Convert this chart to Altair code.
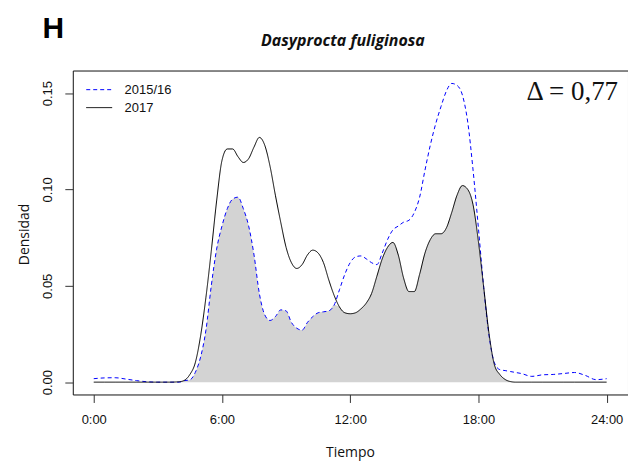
import altair as alt
import numpy as np
import pandas as pd

# ---- data ----
hours = [0, 0.5, 1, 1.5, 2, 2.5, 3, 3.5, 4, 4.25, 4.5, 4.75, 5, 5.25, 5.5, 5.75,
         6, 6.25, 6.5, 6.75, 7, 7.25, 7.5, 7.75, 8, 8.25, 8.5, 8.75, 9, 9.25, 9.5, 9.75,
         10, 10.25, 10.5, 10.75, 11, 11.25, 11.5, 11.75, 12, 12.25, 12.5, 12.75,
         13, 13.25, 13.5, 13.75, 14, 14.25, 14.5, 14.75, 15, 15.25, 15.5, 15.75,
         16, 16.25, 16.5, 16.75, 17, 17.25, 17.5, 17.75, 18, 18.25, 18.5, 18.75,
         19, 19.25, 19.5, 19.75, 20, 20.5, 21, 21.5, 22, 22.5, 23, 23.5, 24]

dens_2015 = [0.0018, 0.0022, 0.0023, 0.0016, 0.0008, 0.0002, 0.0, 0.0, 0.0, 0.0008, 0.0012, 0.005,
             0.013, 0.027, 0.050, 0.069, 0.081, 0.090, 0.095, 0.096, 0.090, 0.081, 0.066, 0.046,
             0.035, 0.032, 0.034, 0.0375, 0.037, 0.031, 0.028, 0.027, 0.031, 0.034, 0.036, 0.0365,
             0.037, 0.040, 0.048, 0.056, 0.062, 0.065, 0.0655, 0.064, 0.062, 0.061, 0.067, 0.074,
             0.079, 0.081, 0.083, 0.084, 0.088, 0.096, 0.110, 0.123, 0.134, 0.143, 0.151, 0.155,
             0.154, 0.149, 0.135, 0.110, 0.080, 0.049, 0.024, 0.010, 0.0065, 0.006, 0.0055, 0.005,
             0.0045, 0.003, 0.0038, 0.004, 0.0045, 0.005, 0.0035, 0.0013, 0.0018]

dens_2017 = [0.0, 0.0, 0.0, 0.0, 0.0, 0.0, 0.0, 0.0, 0.0002, 0.001, 0.004, 0.010,
             0.024, 0.044, 0.068, 0.094, 0.115, 0.121, 0.121, 0.117, 0.114, 0.116, 0.122, 0.127,
             0.123, 0.112, 0.097, 0.083, 0.070, 0.062, 0.059, 0.061, 0.066, 0.0685, 0.067, 0.062,
             0.053, 0.045, 0.039, 0.036, 0.0355, 0.036, 0.038, 0.041, 0.046, 0.055, 0.064, 0.070,
             0.0725, 0.066, 0.054, 0.047, 0.047, 0.056, 0.067, 0.074, 0.077, 0.077, 0.080, 0.088,
             0.097, 0.102, 0.100, 0.092, 0.073, 0.049, 0.025, 0.009, 0.004, 0.0014, 0.0003, 0.0,
             0.0, 0.0, 0.0, 0.0, 0.0, 0.0, 0.0, 0.0, 0.0]

periods = ["2015/16", "2017"]
period_colors = ["#0000ff", "#000000"]
period_dashes = [[4, 3], [1, 0]]
x_tick_hours = [0, 6, 12, 18, 24]
y_tick_values = [0.0, 0.05, 0.10, 0.15]
panel_letter = ["H"]
species_title = ["Dasyprocta fuliginosa"]
overlap_label = ["\u0394 = 0,77"]
x_title = "Tiempo"
y_title = "Densidad"

# ---- tables ----
lines_df = pd.DataFrame({
    "hour": hours * 2,
    "density": dens_2015 + dens_2017,
    "period": [periods[0]] * len(hours) + [periods[1]] * len(hours),
})
overlap_df = pd.DataFrame({
    "hour": hours,
    "overlap": np.minimum(np.array(dens_2015), np.array(dens_2017)),
})

x_scale = alt.Scale(domain=[-0.98, 25.0], nice=False, zero=False)
y_scale = alt.Scale(domain=[-0.0064, 0.1617], nice=False, zero=False)

x_axis = alt.Axis(values=x_tick_hours, labelExpr="datum.value + ':00'", title=x_title,
                  grid=False, domain=False, tickSize=8, tickColor="#333",
                  labelFont="Liberation Sans", labelFontSize=13, labelColor="#111",
                  labelBaseline="middle", labelPadding=17, labelFlush=False,
                  titleFont="Open Sans", titleFontSize=14, titleFontWeight="normal",
                  titleColor="#111", titleBaseline="alphabetic", titleY=62, titleX=278)
y_axis = alt.Axis(values=y_tick_values, format=".2f", title=y_title,
                  grid=False, domain=False, tickSize=8, tickColor="#333",
                  labelFont="Liberation Sans", labelFontSize=13, labelColor="#111",
                  labelAngle=-90, labelAlign="center", labelBaseline="middle",
                  labelPadding=17, labelFlush=False,
                  titleFont="Open Sans", titleFontSize=14, titleFontWeight="normal",
                  titleColor="#111", titleBaseline="alphabetic", titleX=-44, titleY=164)

area = alt.Chart(overlap_df).mark_area(color="#d3d3d3", interpolate="monotone").encode(
    x=alt.X("hour:Q", scale=x_scale, axis=x_axis),
    y=alt.Y("overlap:Q", scale=y_scale, axis=y_axis),
)

legend = alt.Legend(orient="none", legendX=19.5, legendY=12.2, title=None,
                    symbolType="M-2,0H2", symbolSize=169, symbolStrokeWidth=1,
                    symbolFillColor="transparent",
                    labelFont="Liberation Sans", labelFontSize=13, labelColor="#111",
                    labelOffset=18.5, rowPadding=4, padding=0)

lines = alt.Chart(lines_df).mark_line(strokeWidth=1, interpolate="monotone").encode(
    x=alt.X("hour:Q", scale=x_scale),
    y=alt.Y("density:Q", scale=y_scale),
    color=alt.Color("period:N", scale=alt.Scale(domain=periods, range=period_colors), legend=legend),
    strokeDash=alt.StrokeDash("period:N", scale=alt.Scale(domain=periods, range=period_dashes), legend=legend),
)

delta = alt.Chart(pd.DataFrame({"t": overlap_label})).mark_text(
    font="Liberation Serif", fontSize=27, align="right", baseline="alphabetic", color="#111"
).encode(x=alt.value(547), y=alt.value(30), text="t:N")

letter = alt.Chart(pd.DataFrame({"t": panel_letter})).mark_text(
    font="Liberation Sans", fontSize=30, fontWeight="bold", align="center",
    baseline="alphabetic", color="#000"
).encode(x=alt.value(-19.5), y=alt.value(-33), text="t:N")

title = alt.Chart(pd.DataFrame({"t": species_title})).mark_text(
    font="Open Sans", fontSize=16, fontStyle="italic", fontWeight="bold", align="center",
    baseline="alphabetic", color="#111"
).encode(x=alt.value(271), y=alt.value(-25), text="t:N")

chart = alt.layer(area, lines, delta, letter, title).properties(
    width=557,
    height=325,
    autosize=alt.AutoSizeParams(type="none"),
    padding={"left": 65, "top": 62, "right": 0, "bottom": 67},
).configure_view(stroke="#111", strokeWidth=1)

chart.save("out.html", embed_options={"renderer": "svg", "actions": False})
